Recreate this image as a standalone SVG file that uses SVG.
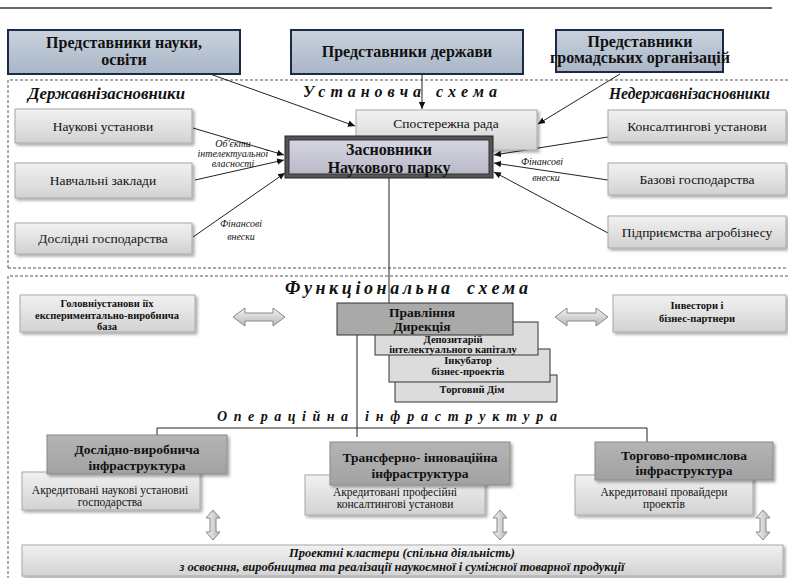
<svg xmlns="http://www.w3.org/2000/svg" width="788" height="578" viewBox="0 0 788 578" font-family="'Liberation Serif', serif">
<defs>
<linearGradient id="gTop" x1="0" y1="0" x2="0" y2="1"><stop offset="0" stop-color="#c9d2de"/><stop offset="1" stop-color="#a9b6c6"/></linearGradient>
<linearGradient id="gLight" x1="0" y1="0" x2="0" y2="1"><stop offset="0" stop-color="#f1f1f1"/><stop offset="0.5" stop-color="#e2e2e2"/><stop offset="1" stop-color="#d2d2d2"/></linearGradient>
<linearGradient id="gDark" x1="0" y1="0" x2="0" y2="1"><stop offset="0" stop-color="#b4b4b4"/><stop offset="1" stop-color="#a2a2a2"/></linearGradient>
<linearGradient id="gMain" x1="0" y1="0" x2="0" y2="1"><stop offset="0" stop-color="#d6d6e2"/><stop offset="1" stop-color="#b8b8c8"/></linearGradient>
<linearGradient id="gArrow" x1="0" y1="0" x2="0" y2="1"><stop offset="0" stop-color="#f4f4f4"/><stop offset="1" stop-color="#b8b8b8"/></linearGradient>
<linearGradient id="gArrowV" x1="0" y1="0" x2="1" y2="0"><stop offset="0" stop-color="#f4f4f4"/><stop offset="1" stop-color="#b8b8b8"/></linearGradient>
<filter id="sh" x="-5%" y="-10%" width="115%" height="140%"><feDropShadow dx="2" dy="2" stdDeviation="1.5" flood-color="#000" flood-opacity="0.35"/></filter>
<marker id="ah" markerWidth="8" markerHeight="8" refX="7" refY="4" orient="auto" markerUnits="userSpaceOnUse"><path d="M0,0.8 L7,4 L0,7.2 Z" fill="#111"/></marker>
</defs>
<style>
text{font-family:'Liberation Serif',serif;fill:#111}
.top{fill:url(#gTop);stroke:#1c2a48;stroke-width:2}
.tt{font-family:'Liberation Serif',serif;font-size:16px;font-weight:bold;text-anchor:middle}
.lb{fill:url(#gLight);stroke:#a8a8a8;stroke-width:1;filter:url(#sh)}
.lt{font-family:'Liberation Serif',serif;font-size:13.5px;text-anchor:middle}
.db{fill:url(#gDark);stroke:#8a8a8a;stroke-width:1;filter:url(#sh)}
.dt{font-family:'Liberation Serif',serif;font-size:13.5px;font-weight:bold;text-anchor:middle}
.st{fill:#dcdcdc;stroke:#333;stroke-width:1}
.sb{font-family:'Liberation Serif',serif;font-size:10.5px;font-weight:bold;text-anchor:middle}
.small{font-family:'Liberation Serif',serif;font-size:11.5px;text-anchor:middle}
.hd{font-family:'Liberation Serif',serif;font-style:italic;font-weight:bold}
.note{font-family:'Liberation Serif',serif;font-size:10px;font-style:italic;text-anchor:middle}
.dash{fill:none;stroke:#555;stroke-width:1;stroke-dasharray:3,2}
.ln{fill:none;stroke:#222;stroke-width:1}
.ar{fill:none;stroke:#222;stroke-width:1;marker-end:url(#ah)}
.ba{fill:url(#gArrow);stroke:#888;stroke-width:1}
.bav{fill:url(#gArrowV);stroke:#888;stroke-width:1}
</style>

<rect x="0" y="0" width="788" height="578" fill="#fff"/>
<line x1="0" y1="8" x2="772" y2="8" stroke="#333" stroke-width="1.5"/>

<g id="frames">
<path class="dash" d="M8,268 V80 H788"/>
<path class="dash" d="M8,268 H788"/>
<path class="dash" d="M788,276 H8 V578"/>
</g>

<g id="headings">
<text class="hd" x="28" y="99" font-size="16" textLength="157" lengthAdjust="spacingAndGlyphs">Державнізасновники</text>
<text class="hd" x="303" y="97" font-size="16" textLength="118" lengthAdjust="spacing">Установча</text>
<text class="hd" x="436" y="97" font-size="16" textLength="61" lengthAdjust="spacing">схема</text>
<text class="hd" x="609" y="99" font-size="16" textLength="161" lengthAdjust="spacingAndGlyphs">Недержавнізасновники</text>
<text class="hd" x="285" y="294" font-size="18" textLength="165" lengthAdjust="spacing">Функціональна</text>
<text class="hd" x="467" y="294" font-size="18" textLength="61" lengthAdjust="spacing">схема</text>
<text class="hd" x="217" y="421" font-size="14" textLength="131" lengthAdjust="spacing">Операційна</text>
<text class="hd" x="365" y="421" font-size="14" textLength="192" lengthAdjust="spacing">інфраструктура</text>
</g>

<g id="connectors">
<line class="ar" x1="210" y1="74" x2="355" y2="126"/>
<line class="ar" x1="422" y1="74" x2="422" y2="109"/>
<line class="ar" x1="620" y1="74" x2="538" y2="124"/>
<line class="ar" x1="193" y1="128" x2="284" y2="155"/>
<line class="ar" x1="195" y1="180" x2="284" y2="160"/>
<line class="ar" x1="193" y1="237" x2="285" y2="173"/>
<line class="ar" x1="608" y1="137" x2="494" y2="155"/>
<line class="ar" x1="608" y1="180" x2="494" y2="163"/>
<line class="ar" x1="608" y1="233" x2="494" y2="172"/>
<line class="ln" x1="389" y1="178" x2="389" y2="303"/>
<line class="ln" x1="357" y1="335" x2="357" y2="437"/>
<path class="ln" d="M157,435 V428 H647 V442"/>
</g>

<g id="labels">
<text class="note" x="233" y="147">Об'єкти</text>
<text class="note" x="233" y="157">інтелектуальної</text>
<text class="note" x="233" y="167">власності</text>
<text class="note" x="241" y="227">Фінансові</text>
<text class="note" x="241" y="240">внески</text>
<text class="note" x="542" y="165">Фінансові</text>
<text class="note" x="546" y="181">внески</text>
</g>

<g id="n-nauka"><rect class="top" x="8" y="30" width="232" height="44"/><text class="tt" x="124" y="48">Представники науки,</text><text class="tt" x="124" y="65">освіти</text></g>
<g id="n-derzh"><rect class="top" x="291" y="30" width="232" height="44"/><text class="tt" x="407" y="57">Представники держави</text></g>
<g id="n-hromad"><rect class="top" x="556" y="30" width="167" height="42"/><text class="tt" x="640" y="47">Представники</text><text class="tt" x="640" y="63">громадських організацій</text></g>

<g id="n-naukovi"><rect class="lb" x="15" y="109" width="177" height="34"/><text class="lt" x="103" y="131">Наукові установи</text></g>
<g id="n-navch"><rect class="lb" x="15" y="163" width="177" height="35"/><text class="lt" x="103" y="185">Навчальні заклади</text></g>
<g id="n-doslidni"><rect class="lb" x="15" y="223" width="177" height="31"/><text class="lt" x="103" y="243">Дослідні господарства</text></g>

<g id="n-konsalt"><rect class="lb" x="608" y="110" width="178" height="32"/><text class="lt" x="697" y="131">Консалтингові установи</text></g>
<g id="n-bazovi"><rect class="lb" x="608" y="163" width="178" height="32"/><text class="lt" x="697" y="184">Базові господарства</text></g>
<g id="n-agro"><rect class="lb" x="608" y="216" width="178" height="32"/><text class="lt" x="697" y="237">Підприємства агробізнесу</text></g>

<g id="n-sposterezhna"><rect class="lb" x="356" y="110" width="181" height="40"/><text class="lt" x="446" y="128" font-size="15">Спостережна рада</text></g>

<g id="n-zasnovnyky">
<rect x="285" y="136" width="208" height="42" fill="#555" stroke="#222" stroke-width="1"/>
<rect x="289" y="140" width="200" height="34" fill="url(#gMain)" stroke="#333" stroke-width="1"/>
<text class="tt" x="389" y="155" font-size="19">Засновники</text>
<text class="tt" x="389" y="173" font-size="19">Наукового парку</text>
</g>

<g id="n-holovni"><rect class="lb" x="20" y="295" width="175" height="37"/><text class="sb" x="107" y="307">Головніустанови іїх</text><text class="sb" x="107" y="319">експериментально-виробнича</text><text class="sb" x="107" y="330">база</text></g>
<g id="n-investory"><rect class="lb" x="613" y="295" width="173" height="37"/><text class="sb" x="697" y="309" font-size="12">Інвестори і</text><text class="sb" x="697" y="322" font-size="12">бізнес-партнери</text></g>

<g id="arrows-h">
<path class="ba" d="M233,317 L245,308 V313 H273 V308 L285,317 L273,326 V321 H245 V326 Z"/>
<path class="ba" d="M555,317 L567,308 V313 H596 V308 L608,317 L596,326 V321 H567 V326 Z"/>
</g>

<g id="n-torhovyi"><rect class="st" x="395" y="375" width="162" height="27"/><text class="sb" x="472" y="393">Торговий Дім</text></g>
<g id="n-inkubator"><rect class="st" x="389" y="349" width="161" height="33"/><text class="sb" x="468" y="364">Інкубатор</text><text class="sb" x="468" y="375">бізнес-проектів</text></g>
<g id="n-depozytarii"><rect class="st" x="375" y="322" width="163" height="33"/><text class="sb" x="453" y="343" font-size="10">Депозитарій</text><text class="sb" x="453" y="353" font-size="10">інтелектуального капіталу</text></g>
<g id="n-pravlinnia"><rect x="337" y="303" width="176" height="32" fill="#a9a9a9" stroke="#333" stroke-width="1"/><text class="dt" x="422" y="317">Правління</text><text class="dt" x="422" y="331">Дирекція</text></g>

<g id="n-akr1"><rect class="lb" x="22" y="472" width="178" height="38"/><text class="small" x="110" y="494">Акредитовані наукові установиі</text><text class="small" x="110" y="506">господарства</text></g>
<g id="n-doslidno"><rect class="db" x="47" y="435" width="180" height="39"/><text class="dt" x="137" y="454">Дослідно-виробнича</text><text class="dt" x="137" y="470">інфраструктура</text></g>

<g id="n-akr2"><rect class="lb" x="305" y="475" width="180" height="40"/><text class="small" x="395" y="496">Акредитовані професійні</text><text class="small" x="395" y="508">консалтингові установи</text></g>
<g id="n-transfer"><rect class="db" x="330" y="442" width="180" height="43"/><text class="dt" x="420" y="462">Трансферно- інноваційна</text><text class="dt" x="420" y="478">інфраструктура</text></g>

<g id="n-akr3"><rect class="lb" x="575" y="475" width="178" height="40"/><text class="small" x="664" y="496">Акредитовані провайдери</text><text class="small" x="664" y="508">проектів</text></g>
<g id="n-torhovo"><rect class="db" x="595" y="442" width="178" height="38"/><text class="dt" x="684" y="460">Торгово-промислова</text><text class="dt" x="684" y="475">інфраструктура</text></g>

<g id="arrows-v">
<path class="bav" d="M213,510 L220,518 H216 V532 H220 L213,540 L206,532 H210 V518 H206 Z"/>
<path class="bav" d="M500,510 L507,518 H503 V532 H507 L500,540 L493,532 H497 V518 H493 Z"/>
<path class="bav" d="M763,510 L770,518 H766 V532 H770 L763,540 L756,532 H760 V518 H756 Z"/>
</g>

<g id="n-klastery"><rect class="lb" x="22" y="545" width="761" height="31"/><text class="hd" x="402" y="557" font-size="12.5" text-anchor="middle">Проектні кластери (спільна діяльність)</text><text class="hd" x="402" y="571" font-size="12.5" text-anchor="middle">з освоєння, виробництва та реалізації наукоємної і суміжної товарної продукції</text></g>
</svg>
